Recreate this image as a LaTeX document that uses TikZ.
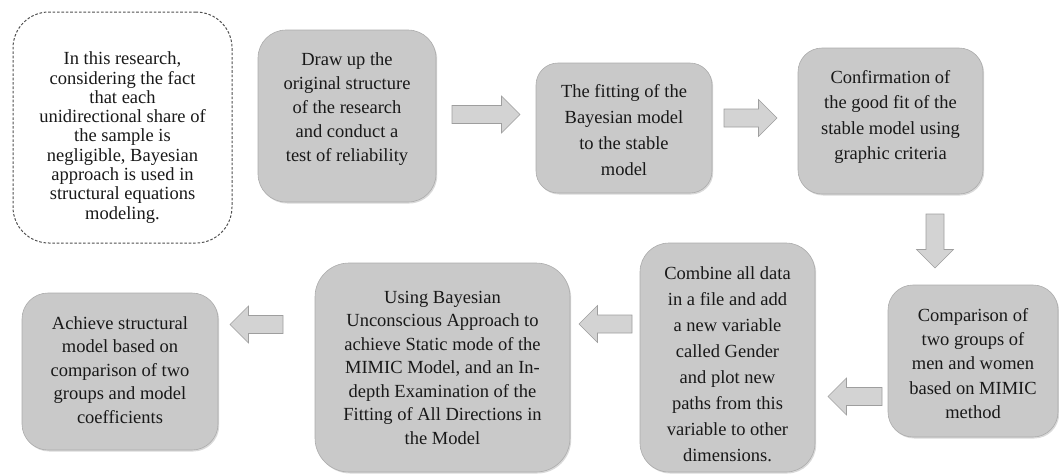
\documentclass[tikz,border=0pt]{standalone}
\usepackage{fontspec}
\setmainfont{Liberation Serif}
\usetikzlibrary{calc,shadows}
\definecolor{boxfill}{RGB}{201,201,201}
\definecolor{boxedge}{RGB}{172,172,172}
\definecolor{arrowfill}{RGB}{211,211,211}
\definecolor{arrowedge}{RGB}{158,158,158}
\definecolor{dashedge}{RGB}{80,80,80}
\definecolor{textcol}{RGB}{25,25,25}
\begin{document}
\begin{tikzpicture}[x=1pt,y=-1pt,
  stepbox/.style={rectangle, rounded corners=#1, fill=boxfill, draw=boxedge, line width=0.6pt, inner sep=0pt,
    drop shadow={shadow xshift=1.2pt, shadow yshift=-1.5pt, opacity=0.3}},
  notebox/.style={rectangle, rounded corners=#1, fill=white, draw=dashedge, line width=1pt,
    dash pattern=on 2.6pt off 1.8pt, inner sep=0pt},
  steptext/.style={align=center, inner sep=0pt, text=textcol, font=\rmfamily\fontsize{18.5}{#1}\selectfont},
  blockarrow/.style={draw=arrowedge, fill=arrowfill, line width=0.6pt, line join=miter,
    to path={let \p1=($(\tikztotarget)-(\tikztostart)$), \n1={atan2(\y1,\x1)},
      \n2={veclen(\x1,\y1)-18.5} in
      ($(\tikztostart)+(\n1+90:9pt)$) -- ($(\tikztostart)+(\n1:\n2)+(\n1+90:9pt)$)
      -- ($(\tikztostart)+(\n1:\n2)+(\n1+90:18.5pt)$) -- (\tikztotarget)
      -- ($(\tikztostart)+(\n1:\n2)+(\n1-90:18.5pt)$) -- ($(\tikztostart)+(\n1:\n2)+(\n1-90:9pt)$)
      -- ($(\tikztostart)+(\n1-90:9pt)$) -- cycle}}
]
\useasboundingbox (0,0) rectangle (1059,475);

% boxes
\node[notebox=36pt, minimum width=219pt, minimum height=231pt] (d0) at (122.5,127.5) {};
\node[stepbox=28pt, minimum width=178pt, minimum height=172pt] (b1) at (347,116) {};
\node[stepbox=22pt, minimum width=176pt, minimum height=130pt] (b2) at (624,128) {};
\node[stepbox=24pt, minimum width=185pt, minimum height=146pt] (b3) at (890.5,121) {};
\node[stepbox=25pt, minimum width=170pt, minimum height=152pt] (b4) at (973,361) {};
\node[stepbox=29pt, minimum width=175pt, minimum height=229pt] (b5) at (727.5,357.5) {};
\node[stepbox=34pt, minimum width=255pt, minimum height=209pt] (b6) at (442.5,367.5) {};
\node[stepbox=26pt, minimum width=196pt, minimum height=157pt] (b7) at (120,371.5) {};

% texts
\node[steptext=19.3] (t0) at ($(d0.center)+(0,10)$) {In this research,\\considering the fact\\that each\\unidirectional share of\\the sample is\\negligible, Bayesian\\approach is used in\\structural equations\\modeling.};
\node[steptext=24] (t1) at ($(b1.center)+(0,-7)$) {Draw up the\\original structure\\of the research\\and conduct a\\test of reliability};
\node[steptext=25.8] (t2) at ($(b2.center)+(0,2)$) {The fitting of the\\Bayesian model\\to the stable\\model};
\node[steptext=25.3] (t3) at ($(b3.center)+(0,-4)$) {Confirmation of\\the good fit of the\\stable model using\\graphic criteria};
\node[steptext=24.3] (t4) at ($(b4.center)+(0,2.5)$) {Comparison of\\two groups of\\men and women\\based on MIMIC\\method};
\node[steptext=26] (t5) at ($(b5.center)+(0,6.5)$) {Combine all data\\in a file and add\\a new variable\\called Gender\\and plot new\\paths from this\\variable to other\\dimensions.};
\node[steptext=23.5] (t6) at (b6.center) {Using Bayesian\\Unconscious Approach to\\achieve Static mode of the\\MIMIC Model, and an In-\\depth Examination of the\\Fitting of All Directions in\\the Model};
\node[steptext=23.6] (t7) at ($(b7.center)+(0,-1.5)$) {Achieve structural\\model based on\\comparison of two\\groups and model\\coefficients};

% arrow ends
\coordinate (a1s) at (452,114.5);  \coordinate (a1e) at (520,114.5);
\coordinate (a2s) at (724,118);    \coordinate (a2e) at (777,118);
\coordinate (a3s) at (935,214);    \coordinate (a3e) at (935,268);
\coordinate (a4s) at (882,396.5);  \coordinate (a4e) at (828,396.5);
\coordinate (a5s) at (632,324);    \coordinate (a5e) at (579,324);
\coordinate (a6s) at (283,324.5);  \coordinate (a6e) at (230,324.5);

\draw[blockarrow] (a1s) to (a1e);
\draw[blockarrow] (a2s) to (a2e);
\draw[blockarrow] (a3s) to (a3e);
\draw[blockarrow] (a4s) to (a4e);
\draw[blockarrow] (a5s) to (a5e);
\draw[blockarrow] (a6s) to (a6e);
\end{tikzpicture}
\end{document}
